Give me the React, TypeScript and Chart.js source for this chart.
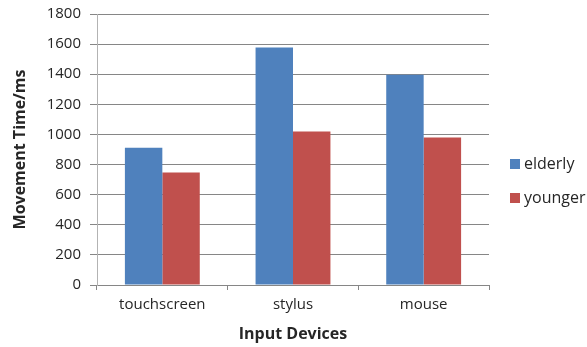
import React, { useEffect, useRef } from "react";
import { Chart, registerables } from "chart.js";

Chart.register(...registerables);

const devices = ["touchscreen", "stylus", "mouse"];
const elderly = [912, 1577, 1397];
const younger = [748, 1020, 979];
const seriesNames = ["elderly", "younger"];
const seriesColors = ["#4F81BD", "#C0504D"];

const FONT = "'Open Sans', 'DejaVu Sans', sans-serif";
const TEXT = "#262626";

// Legend drawn on the right, one square + label per dataset
const sideLegend = {
  id: "sideLegend",
  afterDraw(chart: any) {
    const ctx = chart.ctx;
    ctx.save();
    ctx.font = `16px ${FONT}`;
    ctx.textBaseline = "middle";
    ctx.textAlign = "left";
    chart.data.datasets.forEach((ds: any, i: number) => {
      const cy = 164 + i * 34;
      ctx.fillStyle = ds.backgroundColor;
      ctx.fillRect(510, cy - 5, 10, 10);
      ctx.fillStyle = TEXT;
      ctx.fillText(ds.label, 524, cy);
    });
    ctx.restore();
  },
};

export default function App() {
  const canvasRef = useRef<HTMLCanvasElement | null>(null);

  useEffect(() => {
    const canvas = canvasRef.current;
    if (!canvas) return;
    const chart = new Chart(canvas, {
      type: "bar",
      data: {
        labels: devices,
        datasets: [
          { label: seriesNames[0], data: elderly, backgroundColor: seriesColors[0] },
          { label: seriesNames[1], data: younger, backgroundColor: seriesColors[1] },
        ],
      },
      options: {
        responsive: false,
        animation: false,
        devicePixelRatio: 1,
        layout: { padding: { top: 14, right: 98, left: 0, bottom: 0 } },
        datasets: {
          bar: { categoryPercentage: 0.573, barPercentage: 1.0 },
        },
        plugins: {
          legend: { display: false },
          tooltip: { enabled: false },
        },
        scales: {
          x: {
            afterFit: (scale: any) => {
              scale.height = 62;
            },
            grid: {
              drawOnChartArea: false,
              drawTicks: true,
              tickLength: 5,
              offset: true,
              color: "#868686",
            },
            border: { color: "#868686" },
            ticks: {
              color: TEXT,
              font: { family: FONT, size: 15 },
              padding: 6,
            },
            title: {
              display: true,
              text: "Input Devices",
              color: TEXT,
              font: { family: FONT, size: 16, weight: "bold" },
              padding: { top: 0, bottom: 3 },
            },
          },
          y: {
            min: 0,
            max: 1800,
            afterFit: (scale: any) => {
              scale.width = 97;
              scale.paddingTop = 0;
              scale.paddingBottom = 0;
            },
            ticks: {
              stepSize: 200,
              color: TEXT,
              font: { family: FONT, size: 15 },
              padding: 9,
              callback: (v: any) => String(v),
            },
            grid: {
              color: "#868686",
              tickLength: 7,
            },
            border: { color: "#b3b3b3" },
            title: {
              display: true,
              text: "Movement Time/ms",
              color: TEXT,
              font: { family: FONT, size: 16, weight: "bold" },
              padding: { top: 11, bottom: 0 },
            },
          },
        },
      },
      plugins: [sideLegend],
    });
    return () => chart.destroy();
  }, []);

  return (
    <div style={{ position: "absolute", left: 0, top: 0, width: 587, height: 347, background: "#fff" }}>
      <canvas ref={canvasRef} width={587} height={347} />
    </div>
  );
}
